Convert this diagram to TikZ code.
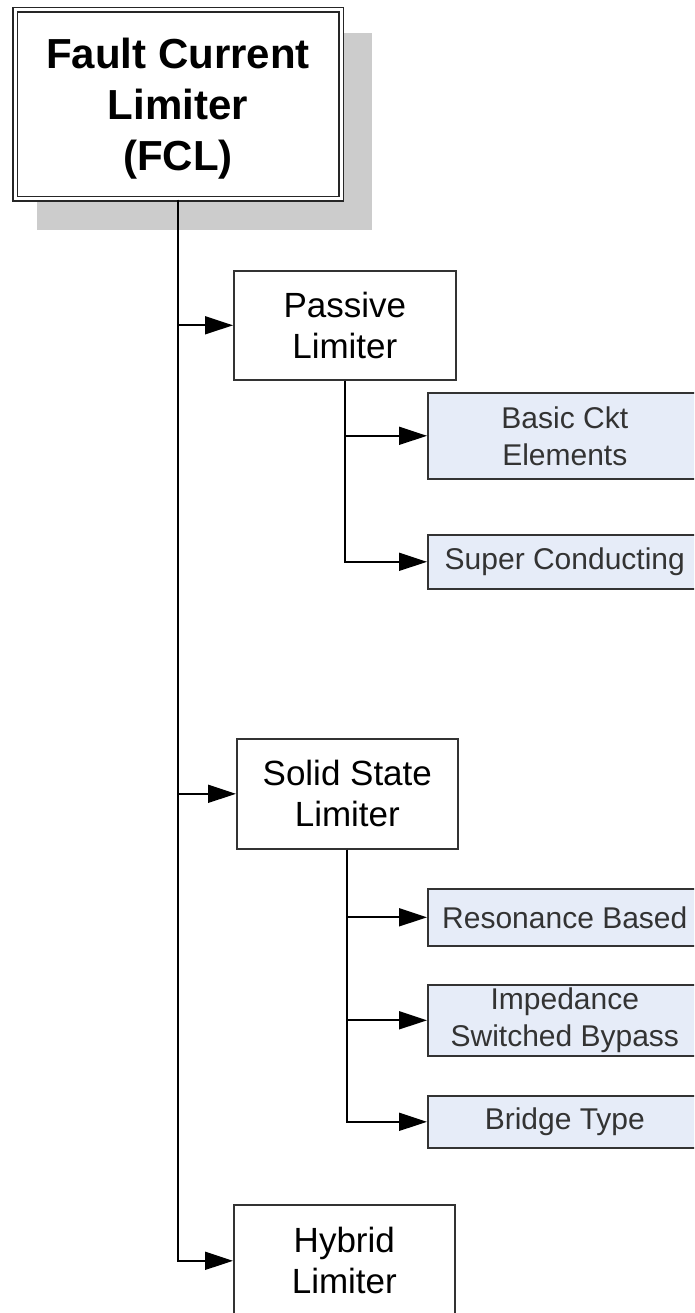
\documentclass[tikz,border=0pt]{standalone}
\usepackage{fontspec}
\setmainfont{Liberation Sans}
\usetikzlibrary{arrows.meta,backgrounds}
\definecolor{kindblue}{RGB}{230,236,248}
\definecolor{shadowgrey}{RGB}{204,204,204}
\tikzset{
  root/.style={rectangle, draw=black!85, double, double distance=3pt, line width=1.6pt,
    fill=white, align=center, inner sep=0pt, minimum width=326pt, minimum height=189pt,
    font=\fontsize{42}{51}\selectfont\bfseries},
  limiter/.style={rectangle, draw=black!80, line width=1.6pt, fill=white, align=center,
    inner sep=0pt, anchor=north west, font=\fontsize{35}{41}\selectfont},
  kind/.style={rectangle, draw=black!80, line width=1.6pt, fill=kindblue, text=black!80,
    align=center, inner sep=0pt, anchor=north west, minimum width=274pt,
    font=\fontsize{30}{37}\selectfont},
  flow/.style={-{Triangle[length=28pt,width=18pt]}, draw=black, line width=1.8pt},
}

\begin{document}
\begin{tikzpicture}[x=1pt, y=-1pt]
    \useasboundingbox (0,0) rectangle (694,1313);
    \clip (0,0) rectangle (694,1313);
    \node[root, text depth=0pt] (fcl) at (178,104.5) {Fault Current\\Limiter\\(FCL)};
    \begin{scope}[on background layer]
      \fill[shadowgrey] ([shift={(22.5,30)}]fcl.south west) rectangle ([shift={(30,24)}]fcl.north east);
    \end{scope}
    \node[limiter, minimum width=222pt, minimum height=109pt] (passive) at (233,270) {Passive\\Limiter};
    \node[kind, minimum height=86pt] (basic) at (427,392) {Basic Ckt\\Elements};
    \node[kind, minimum height=54pt] (super) at (427,534) {Super Conducting};
    \node[limiter, minimum width=221pt, minimum height=110pt] (solid) at (236,738) {Solid State\\Limiter};
    \node[kind, minimum height=57pt] (reson) at (427,888) {Resonance Based};
    \node[kind, minimum height=71pt] (imped) at (427,984) {Impedance\\Switched Bypass};
    \node[kind, minimum height=52pt] (bridge) at (427,1095) {Bridge Type};
    \node[limiter, minimum width=221pt, minimum height=112pt] (hybrid) at (233,1204) {Hybrid\\Limiter};
    \draw[flow] (fcl.south) |- (passive.west);
    \draw[flow] (fcl.south) |- (solid.west);
    \draw[flow] (fcl.south) |- (hybrid.west);
    \draw[flow] (passive.south) |- (basic.west);
    \draw[flow] (passive.south) |- (super.west);
    \draw[flow] (solid.south) |- (reson.west);
    \draw[flow] (solid.south) |- (imped.west);
    \draw[flow] (solid.south) |- (bridge.west);
  \end{tikzpicture}
\end{document}
